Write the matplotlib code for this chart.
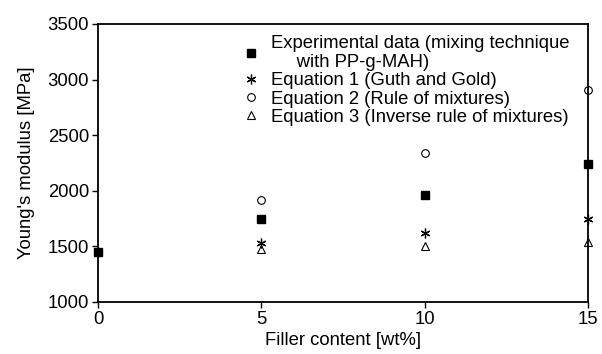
import matplotlib
matplotlib.use("Agg")
import matplotlib.pyplot as plt

plt.rcParams["font.family"] = ["Liberation Sans", "DejaVu Sans"]

# Filler content [wt%]
filler = [0, 5, 10, 15]

# Young's modulus [MPa]
experimental = [1450, 1750, 1960, 2240]
eq1_guth_gold = [1450, 1530, 1620, 1750]
eq2_rule = [1450, 1920, 2340, 2910]
eq3_inverse = [1450, 1480, 1500, 1540]

FS = 13.3

fig = plt.figure(figsize=(6.02, 3.54), dpi=100)
ax = fig.add_axes([98 / 602, 1 - 302 / 354, 490 / 602, 278 / 354])

ms = 5.5
ax.plot(filler[1:], eq2_rule[1:], linestyle="none", marker="o", ms=ms,
        mfc="white", mec="black", mew=0.8, clip_on=False,
        label="Equation 2 (Rule of mixtures)")
ax.plot(filler[1:], eq3_inverse[1:], linestyle="none", marker="^", ms=ms + 0.5,
        mfc="white", mec="black", mew=0.8, clip_on=False,
        label="Equation 3 (Inverse rule of mixtures)")
ax.plot(filler, eq1_guth_gold, linestyle="none", marker=(6, 2, 0), ms=ms + 1.5,
        mec="black", mew=0.9, clip_on=False, label="Equation 1 (Guth and Gold)")
ax.plot(filler, experimental, linestyle="none", marker="s", ms=ms,
        mfc="black", mec="black", clip_on=False,
        label="Experimental data (mixing technique\n     with PP-g-MAH)")

ax.set_xlim(0, 15)
ax.set_ylim(1000, 3500)
ax.set_xticks([0, 5, 10, 15])
ax.set_yticks(range(1000, 3501, 500))
ax.tick_params(direction="out", length=4.5, width=1, labelsize=FS, pad=2)
for s in ax.spines.values():
    s.set_linewidth(1.3)

ax.set_xlabel("Filler content [wt%]", fontsize=FS, labelpad=3)
ax.set_ylabel("Young's modulus [MPa]", fontsize=FS, labelpad=9)

handles, labels = ax.get_legend_handles_labels()
order = [3, 2, 0, 1]
leg = ax.legend([handles[i] for i in order], [labels[i] for i in order],
                loc="upper left", bbox_to_anchor=(0.297, 0.96), frameon=False,
                fontsize=FS, handlelength=0.8, handletextpad=0.67,
                labelspacing=0.07, borderaxespad=0.0, borderpad=0.0)
for t in leg.get_texts():
    t.set_linespacing(1.15)

fig.savefig("out.png", dpi=100)
